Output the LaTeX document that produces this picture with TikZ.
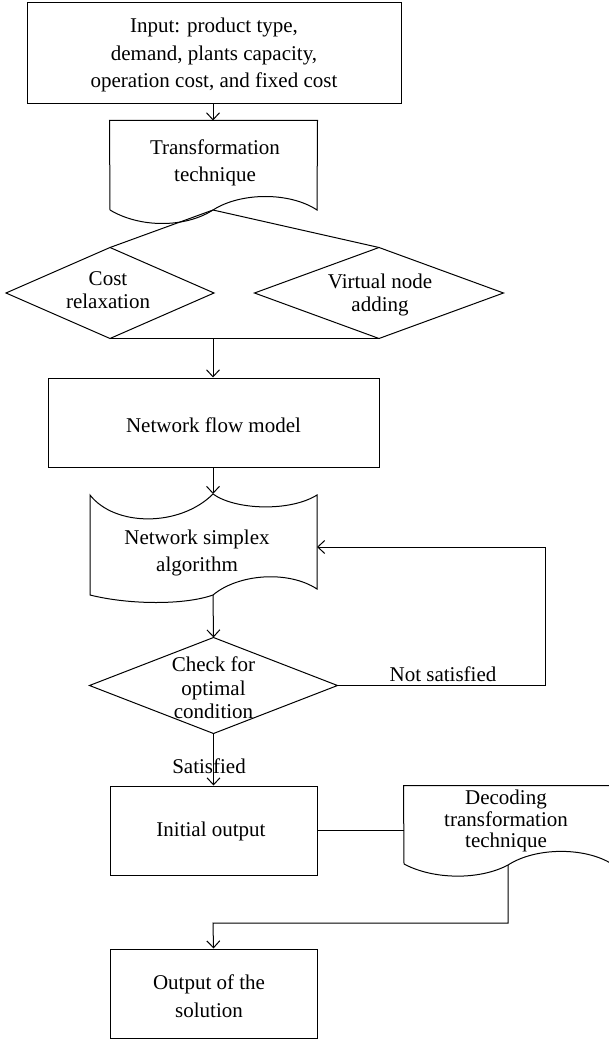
\documentclass[tikz,border=0pt]{standalone}
\usepackage{fontspec}
\setmainfont{Liberation Serif}
\usetikzlibrary{arrows.meta}
\begin{document}
\begin{tikzpicture}[x=1pt,y=-1pt,line width=1pt,
  txt/.style={align=center,inner sep=0pt,font=\fontsize{21}{27}\selectfont},
  frame/.style={draw=none,inner sep=0pt},
  procbox/.style={draw,inner sep=0pt},
  flow/.style={-{Straight Barb[length=7pt,width=13pt]}}]
\useasboundingbox (0,0) rectangle (608,1040);

% input data
\node[procbox,minimum width=374pt,minimum height=101pt] (input) at (214,53.5) {};
\node[txt,font=\fontsize{21}{27.5}\selectfont] (inputtxt) at (214,55) {Input: product type,\\demand, plants capacity,\\operation cost, and fixed cost};

% transformation technique (document shape)
\node[frame,minimum width=207pt,minimum height=89pt] (trans) at (213.5,165.5) {};
\draw (110,210) -- (trans.north west) -- (trans.north east) -- (317,210)
  .. controls (290,192) and (241,192) .. (213,210)
  .. controls (185,228) and (140,228) .. (110,210);
\node[txt] (transtxt) at (215,163) {Transformation\\technique};
\coordinate (transcusp) at (213,210);
\draw[flow] (input.south -| transcusp) -- (transcusp |- trans.north);

% the two relaxation decisions
\node[frame,minimum width=207pt,minimum height=90pt] (costrelax) at (110,293) {};
\draw (costrelax.north) -- (costrelax.east) -- (costrelax.south) -- (costrelax.west) -- cycle;
\node[txt,font=\fontsize{21}{23}\selectfont] (costtxt) at (108,290) {Cost\\relaxation};
\node[frame,minimum width=248pt,minimum height=90pt] (virtual) at (379,293) {};
\draw (virtual.north) -- (virtual.east) -- (virtual.south) -- (virtual.west) -- cycle;
\node[txt,font=\fontsize{21}{22.5}\selectfont] (virtualtxt) at (380,295) {Virtual node\\adding};

\draw (transcusp) -- (costrelax.north);
\draw (transcusp) -- (virtual.north);
\draw (costrelax.south) -- (virtual.south);
\coordinate (join) at (213,338);

% network flow model
\node[procbox,minimum width=331pt,minimum height=89pt] (netflow) at (213.5,422.5) {};
\node[txt] (netflowtxt) at (213.5,425) {Network flow model};
\draw[flow] (join) -- (join |- netflow.north);

% network simplex algorithm (tape shape)
\node[frame,minimum width=227pt,minimum height=100pt] (simplex) at (203.5,545) {};
\draw (90,495) .. controls (115,527) and (180,527) .. (213,494)
  .. controls (235,510) and (290,512) .. (317,495)
  -- (317,589)
  .. controls (288,570) and (238,574) .. (213,595)
  .. controls (185,605) and (130,605) .. (90,595) -- cycle;
\node[txt] (simplextxt) at (197,553) {Network simplex\\algorithm};
\coordinate (simplextop) at (213,494);
\coordinate (simplexbot) at (213,595);
\coordinate (simplexin) at (317,547);
\draw[flow] (netflow.south -| join) -- (simplextop);

% optimality check
\node[frame,minimum width=247pt,minimum height=95pt] (check) at (213.5,685.5) {};
\draw (check.north) -- (check.east) -- (check.south) -- (check.west) -- cycle;
\node[txt,font=\fontsize{21}{23.5}\selectfont] (checktxt) at (213.5,688) {Check for\\optimal\\condition};
\draw[flow] (simplexbot) -- (check.north);

\coordinate (loopA) at (545,685.5);
\coordinate (loopB) at (545,547);
\draw[flow] (check.east) -- (loopA) -- (loopB) -- (simplexin);
\node[txt] (notsat) at (443,674) {Not satisfied};

% initial output
\node[procbox,minimum width=207pt,minimum height=89pt] (initial) at (213.5,830.5) {};
\node[txt] (initialtxt) at (211,831) {Initial output};
\draw[flow] (check.south) -- (check.south |- initial.north);
\node[txt] (sat) at (209,766) {Satisfied};

% decoding transformation technique (document shape)
\node[frame,minimum width=208pt,minimum height=78pt] (decoding) at (508,825) {};
\draw (404,864) -- (decoding.north west) -- (decoding.north east) -- (612,864)
  .. controls (585,847) and (536,847) .. (508,865)
  .. controls (480,880) and (434,880) .. (404,864);
\node[txt,font=\fontsize{21}{21.5}\selectfont] (decodingtxt) at (506,821) {Decoding\\transformation\\technique};
\draw (initial.east) -- (initial.east -| decoding.west);

% final output
\node[procbox,minimum width=207pt,minimum height=89pt] (output) at (213.5,993.5) {};
\node[txt,font=\fontsize{21}{28}\selectfont] (outputtxt) at (209,996) {Output of the\\solution};
\coordinate (deccusp) at (508,865);
\coordinate (decturn) at (508,923);
\coordinate (outturn) at (213,923);
\draw[flow] (deccusp) -- (decturn) -- (outturn) -- (output.north);
\end{tikzpicture}
\end{document}
